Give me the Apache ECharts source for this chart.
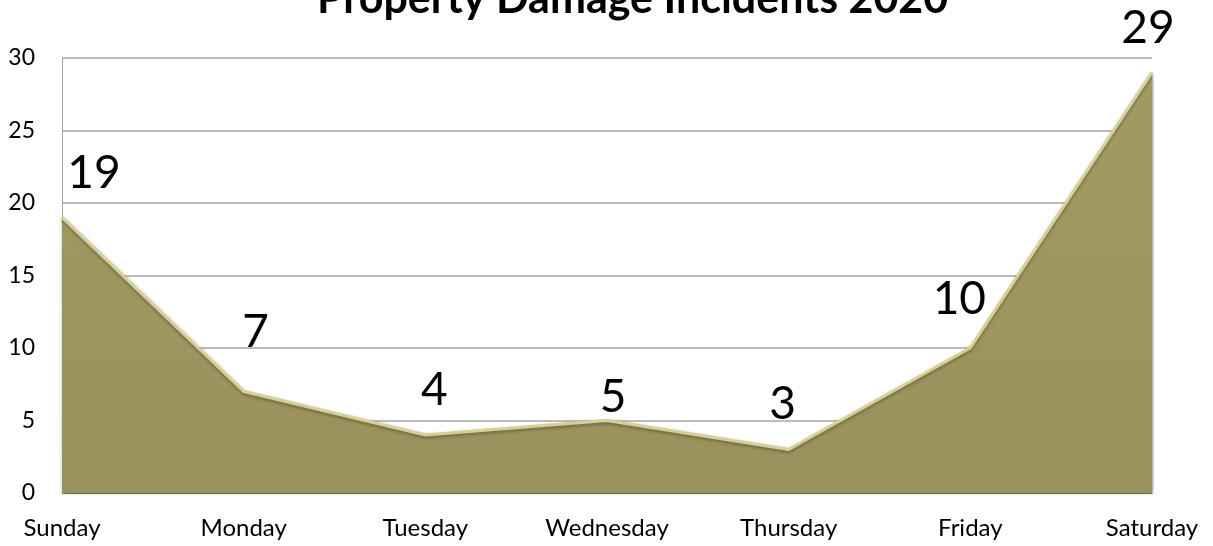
<!DOCTYPE html>
<html>
<head>
<meta charset="utf-8">
<script src="https://cdn.jsdelivr.net/npm/echarts@6/dist/echarts.min.js"></script>
<style>
  html, body { margin: 0; padding: 0; background: #ffffff; }
  #chart { width: 1213px; height: 546px; }
</style>
</head>
<body>
<div id="chart"></div>
<script>
// Incidents per weekday
const days = ['Sunday', 'Monday', 'Tuesday', 'Wednesday', 'Thursday', 'Friday', 'Saturday'];
const incidents = [19, 7, 4, 5, 3, 10, 29];
const yTicks = { min: 0, max: 30, interval: 5 };

// Where each value label sits relative to its point
const labelOffsets = [[32, -21], [12, -36], [9, -21], [6, 0], [-6, -22], [-11, -25], [-4, -21]];

const FONT = 'Lato, "Open Sans", sans-serif';

const chart = echarts.init(document.getElementById('chart'), null, { renderer: 'canvas' });

chart.setOption({
  backgroundColor: '#ffffff',
  animation: false,
  title: {
    text: 'Property Damage Incidents 2020',
    left: 312,
    top: -27,
    textStyle: { fontFamily: FONT, fontWeight: 'bold', fontSize: 43, color: '#000000' }
  },
  grid: { left: 62, right: 61, top: 58, bottom: 53, containLabel: false },
  xAxis: {
    type: 'category',
    boundaryGap: false,
    data: days,
    axisLine: { show: true, lineStyle: { color: '#8c8c8c', width: 1 } },
    axisTick: { show: false },
    axisLabel: { color: '#000000', fontFamily: FONT, fontSize: 24, margin: 23, interval: 0 },
    splitLine: { show: false }
  },
  yAxis: {
    type: 'value',
    min: yTicks.min,
    max: yTicks.max,
    interval: yTicks.interval,
    axisLine: { show: true, lineStyle: { color: '#a6a6a6', width: 1 } },
    axisTick: { show: false },
    axisLabel: { color: '#000000', fontFamily: FONT, fontSize: 23, margin: 27 },
    splitLine: { show: true, lineStyle: { color: '#a6a6a6', width: 1.5 } }
  },
  series: [{
    type: 'line',
    data: incidents.map((v, i) => ({
      value: v,
      label: { offset: labelOffsets[i] }
    })),
    symbol: 'circle',
    symbolSize: 1,
    showSymbol: true,
    itemStyle: { color: 'rgba(0,0,0,0)' },
    smooth: false,
    lineStyle: {
      color: '#d6cf98',
      width: 3,
      shadowColor: 'rgba(60,55,20,0.45)',
      shadowBlur: 3,
      shadowOffsetY: 2
    },
    areaStyle: {
      opacity: 1,
      color: new echarts.graphic.LinearGradient(0, 0, 0, 1, [
        { offset: 0, color: '#a29a63' },
        { offset: 1, color: '#9a925d' }
      ]),
      shadowColor: 'rgba(50,45,15,0.55)',
      shadowBlur: 4,
      shadowOffsetX: 1,
      shadowOffsetY: 1
    },
    label: {
      show: true,
      position: 'top',
      distance: 0,
      fontFamily: FONT,
      fontSize: 46,
      lineHeight: 46,
      color: '#000000'
    }
  }]
});
</script>
</body>
</html>
